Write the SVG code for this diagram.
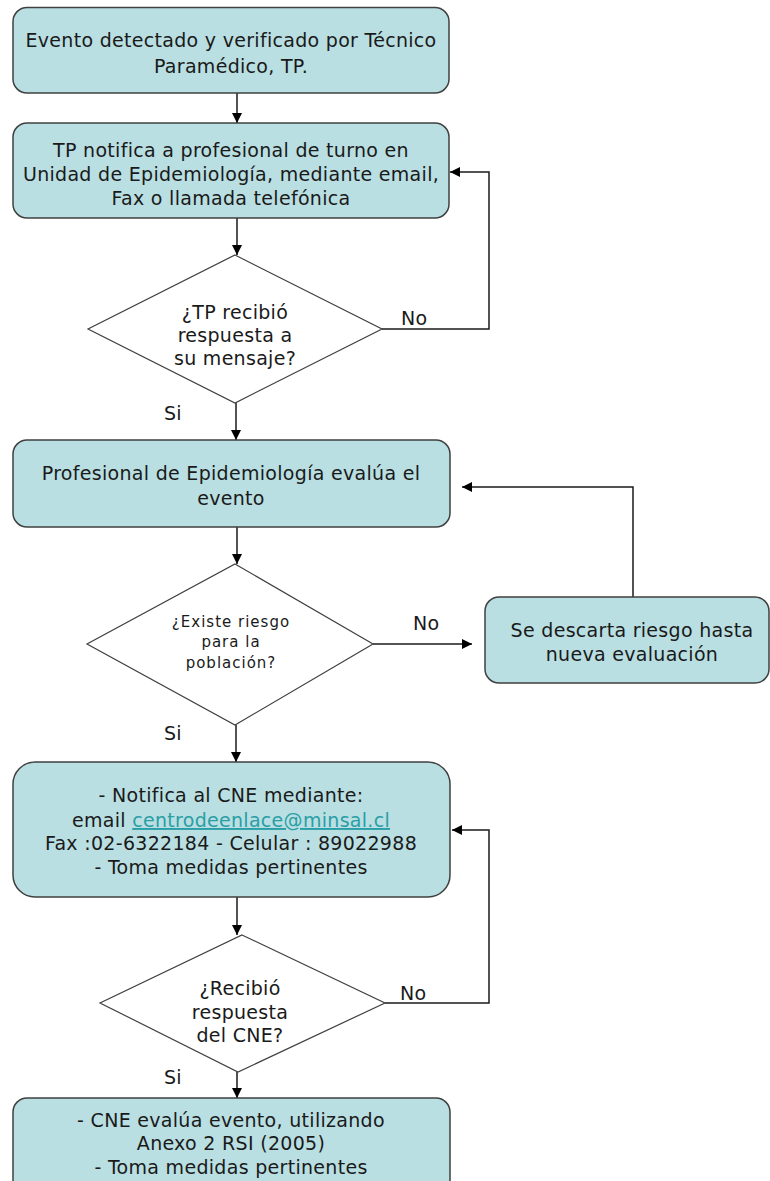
<svg xmlns="http://www.w3.org/2000/svg" width="770" height="1181" viewBox="0 0 770 1181">
<style>
.box{fill:#b9dfe2;stroke:#404040;stroke-width:1.5}
.dia{fill:#ffffff;stroke:#404040;stroke-width:1.2}
.t{font-family:"DejaVu Sans",Verdana,sans-serif;font-size:19px;letter-spacing:0.3px;fill:#1a1a1a;text-anchor:middle}
.ts{font-family:"DejaVu Sans",Verdana,sans-serif;font-size:15px;letter-spacing:1px;fill:#1a1a1a;text-anchor:middle}
.lbl{font-family:"DejaVu Sans",Verdana,sans-serif;font-size:19px;letter-spacing:0.3px;fill:#1a1a1a}
.link{fill:#2a9ea6;text-decoration:underline}
.c{fill:none;stroke:#1a1a1a;stroke-width:1.5}
</style>
<defs>
<marker id="ah" viewBox="0 0 10 10" refX="10" refY="5" markerWidth="10" markerHeight="10" markerUnits="userSpaceOnUse" orient="auto">
<path d="M0,0 L10,5 L0,10 z" fill="#000"/>
</marker>
</defs>
<rect width="770" height="1181" fill="#ffffff"/>
<g id="connectors">
<path class="c" d="M237,93 V123" marker-end="url(#ah)"/>
<path class="c" d="M237,218 V255" marker-end="url(#ah)"/>
<path class="c" d="M382,329 H489 V172 H450" marker-end="url(#ah)"/>
<path class="c" d="M236,403 V440" marker-end="url(#ah)"/>
<path class="c" d="M237,527 V564" marker-end="url(#ah)"/>
<path class="c" d="M373,644 H472" marker-end="url(#ah)"/>
<path class="c" d="M633,597 V487 H462" marker-end="url(#ah)"/>
<path class="c" d="M236,725 V762" marker-end="url(#ah)"/>
<path class="c" d="M237,897 V935" marker-end="url(#ah)"/>
<path class="c" d="M385,1003 H489 V830 H452" marker-end="url(#ah)"/>
<path class="c" d="M237,1072 V1098" marker-end="url(#ah)"/>
<text class="lbl" x="401" y="325">No</text>
<text class="lbl" x="164" y="420">Si</text>
<text class="lbl" x="413" y="630">No</text>
<text class="lbl" x="164" y="740">Si</text>
<text class="lbl" x="400" y="1000">No</text>
<text class="lbl" x="164" y="1084">Si</text>
</g>
<g id="n1">
<rect class="box" x="13" y="7.5" width="436" height="85.5" rx="14"/>
<text class="t" x="231" y="47">Evento detectado y verificado por Técnico</text>
<text class="t" x="231" y="73">Paramédico, TP.</text>
</g>
<g id="n2">
<rect class="box" x="13" y="123" width="436" height="95" rx="14"/>
<text class="t" x="231" y="157">TP notifica a profesional de turno en</text>
<text class="t" x="231" y="181">Unidad de Epidemiología, mediante email,</text>
<text class="t" x="231" y="205">Fax o llamada telefónica</text>
</g>
<g id="d1">
<polygon class="dia" points="235,255 382,329 235,403 88,329"/>
<text class="t" x="235" y="319">¿TP recibió</text>
<text class="t" x="235" y="342">respuesta a</text>
<text class="t" x="235" y="365">su mensaje?</text>
</g>
<g id="n3">
<rect class="box" x="13" y="440" width="437" height="87" rx="14"/>
<text class="t" x="231" y="480">Profesional de Epidemiología evalúa el</text>
<text class="t" x="231" y="505">evento</text>
</g>
<g id="d2">
<polygon class="dia" points="235,564 373,644 235,725 87,644"/>
<text class="ts" x="231" y="627">¿Existe riesgo</text>
<text class="ts" x="231" y="647">para la</text>
<text class="ts" x="231" y="668">población?</text>
</g>
<g id="n4">
<rect class="box" x="485" y="597" width="284" height="86" rx="14"/>
<text class="t" x="632" y="637">Se descarta riesgo hasta</text>
<text class="t" x="632" y="661">nueva evaluación</text>
</g>
<g id="n5">
<rect class="box" x="13" y="762" width="437" height="135" rx="22"/>
<text class="t" x="231" y="802">- Notifica al CNE mediante:</text>
<text class="t" x="231" y="827">email <tspan class="link">centrodeenlace@minsal.cl</tspan></text>
<text class="t" x="231" y="850">Fax :02-6322184 - Celular : 89022988</text>
<text class="t" x="231" y="874">- Toma medidas pertinentes</text>
</g>
<g id="d3">
<polygon class="dia" points="242,935 385,1003 238,1072 100,1003"/>
<text class="t" x="240" y="995">¿Recibió</text>
<text class="t" x="240" y="1019">respuesta</text>
<text class="t" x="240" y="1042">del CNE?</text>
</g>
<g id="n6">
<rect class="box" x="13" y="1098" width="437" height="100" rx="14"/>
<text class="t" x="231" y="1127">- CNE evalúa evento, utilizando</text>
<text class="t" x="231" y="1150">Anexo 2 RSI (2005)</text>
<text class="t" x="231" y="1174">- Toma medidas pertinentes</text>
</g>
</svg>
